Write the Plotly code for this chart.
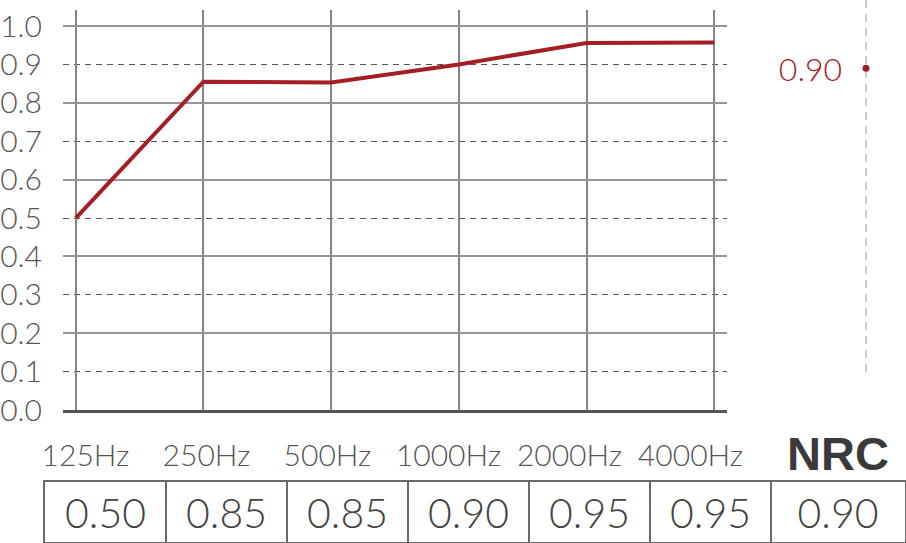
import plotly.graph_objects as go

# ---- data ----
freqs = ["125Hz", "250Hz", "500Hz", "1000Hz", "2000Hz", "4000Hz"]
curve = [0.50, 0.855, 0.853, 0.90, 0.956, 0.957]
table_vals = ["0.50", "0.85", "0.85", "0.90", "0.95", "0.95"]
nrc_label = "NRC"
nrc_value = 0.90
nrc_text = "0.90"
y_ticks = [0.0, 0.1, 0.2, 0.3, 0.4, 0.5, 0.6, 0.7, 0.8, 0.9, 1.0]

# ---- layout helpers ----
W, H = 906, 543


def dom_x(a, b):
    return [a / W, b / W]


def dom_y(top, bottom):
    return [(H - bottom) / H, (H - top) / H]


RED = "#a51e25"
TXT = "#555555"
LIGHT = dict(family="Lato, Roboto", weight=300)

fig = go.Figure()
xi = list(range(len(freqs)))

# main curve
fig.add_trace(go.Scatter(x=xi, y=curve, mode="lines",
                         line=dict(color=RED, width=4),
                         xaxis="x", yaxis="y", hoverinfo="skip"))
# empty trace so that the labelled overlay axis is rendered
fig.add_trace(go.Scatter(x=[None], y=[None], mode="lines",
                         xaxis="x", yaxis="y2", hoverinfo="skip"))

# table cell values
last_w = 1.107
cell_x = [i + 0.5 for i in range(len(table_vals))] + [len(table_vals) + last_w / 2]
fig.add_trace(go.Scatter(x=cell_x, y=[0.40] * len(cell_x), mode="text",
                         text=table_vals + [nrc_text],
                         textfont=dict(size=41, color="#444444", **LIGHT),
                         xaxis="x3", yaxis="y3", cliponaxis=False, hoverinfo="skip"))
# header labels (own row axes)
head_x = [i + 0.5 - 20 / 121 for i in range(len(freqs))]
fig.add_trace(go.Scatter(x=head_x, y=[0.45] * len(freqs), mode="text",
                         text=freqs,
                         textfont=dict(size=30, color=TXT, **LIGHT),
                         xaxis="x5", yaxis="y5", cliponaxis=False, hoverinfo="skip"))
fig.add_trace(go.Scatter(x=[len(freqs) + last_w / 2], y=[0.45], mode="text",
                         text=[nrc_label],
                         textfont=dict(size=47, color="#3a3a3a",
                                       family="Liberation Sans", weight="bold"),
                         xaxis="x5", yaxis="y5", cliponaxis=False, hoverinfo="skip"))

# NRC marker on the right
fig.add_trace(go.Scatter(x=[0], y=[nrc_value], mode="markers",
                         marker=dict(size=7, color=RED),
                         xaxis="x4", yaxis="y4", cliponaxis=False, hoverinfo="skip"))
fig.add_trace(go.Scatter(x=[-0.6], y=[nrc_value - 0.015], mode="text",
                         text=[nrc_text], textposition="middle left",
                         textfont=dict(size=32, color=RED, **LIGHT),
                         xaxis="x4", yaxis="y4", cliponaxis=False, hoverinfo="skip"))

yr = [0, 1.0417]
table_range = [0, len(table_vals) + last_w]
fig.update_layout(
    width=W, height=H,
    margin=dict(l=0, r=0, t=0, b=0, pad=0, autoexpand=False),
    paper_bgcolor="white", plot_bgcolor="white",
    showlegend=False, hovermode=False,
    xaxis=dict(domain=dom_x(63, 727), range=[-0.1, 5.1], anchor="y",
               tickmode="array", tickvals=xi, showticklabels=False,
               showgrid=True, gridcolor="#858585", gridwidth=1.5,
               showline=True, linecolor="#555555", linewidth=3,
               zeroline=False, ticks="", automargin=False),
    yaxis=dict(domain=dom_y(10, 410), range=yr, anchor="x",
               tick0=0, dtick=0.2, showticklabels=False,
               showgrid=True, gridcolor="#959595", gridwidth=1.5,
               minor=dict(tick0=0, dtick=0.1, showgrid=True, gridcolor="#555555",
                          gridwidth=1, griddash="6px,5px"),
               zeroline=False, showline=False, ticks="", automargin=False),
    yaxis2=dict(overlaying="y", range=yr, anchor="x", side="left",
                tickmode="array", tickvals=y_ticks,
                ticktext=[f"{v:.1f}" for v in y_ticks],
                tickfont=dict(size=30, color=TXT, **LIGHT),
                ticklabelstandoff=20,
                showgrid=False, zeroline=False, showline=False, ticks="",
                automargin=False),
    xaxis3=dict(domain=dom_x(45, 905), range=table_range, anchor="y3",
                tickmode="array", tickvals=list(range(1, len(table_vals) + 1)),
                showticklabels=False, showgrid=True, gridcolor="#6a6a6a", gridwidth=1.5,
                showline=True, mirror=True, linecolor="#6a6a6a", linewidth=1.5,
                zeroline=False, ticks="", automargin=False),
    yaxis3=dict(domain=dom_y(482, 542), range=[0, 1], anchor="x3",
                showticklabels=False, showgrid=False,
                showline=True, mirror=True, linecolor="#6a6a6a", linewidth=1.5,
                zeroline=False, ticks="", automargin=False),
    xaxis5=dict(domain=dom_x(45, 905), range=table_range, anchor="y5",
                showticklabels=False, showgrid=False, showline=False,
                zeroline=False, ticks="", automargin=False),
    yaxis5=dict(domain=dom_y(430, 482), range=[0, 1], anchor="x5",
                showticklabels=False, showgrid=False, showline=False,
                zeroline=False, ticks="", automargin=False),
    xaxis4=dict(domain=dom_x(826, 906), range=[-1, 1], anchor="y4",
                tickmode="array", tickvals=[0], showticklabels=False,
                showgrid=True, gridcolor="#cccccc", gridwidth=1.5, griddash="8px,6px",
                showline=False, zeroline=False, ticks="", automargin=False),
    yaxis4=dict(domain=dom_y(0, 376), range=[0, 1.1], anchor="x4",
                showticklabels=False, showgrid=False, showline=False,
                zeroline=False, ticks="", automargin=False),
)

fig.write_html("out.html", config={"displayModeBar": False},
               post_script="document.body.style.margin='0px';"
                           "document.body.style.overflow='hidden';")
